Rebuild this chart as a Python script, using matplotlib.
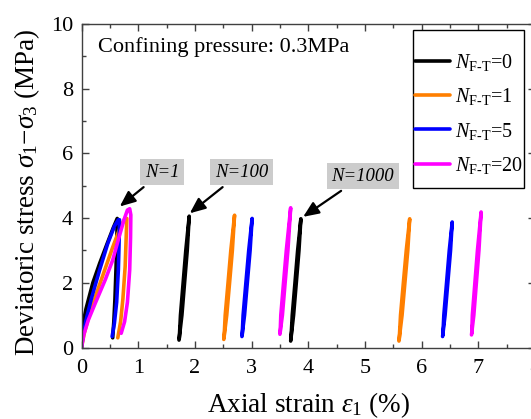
import matplotlib
matplotlib.use("Agg")
import matplotlib.pyplot as plt
from matplotlib.ticker import MultipleLocator
from matplotlib.patches import Rectangle

plt.rcParams['font.family'] = ['Liberation Serif', 'DejaVu Serif']
plt.rcParams['mathtext.fontset'] = 'custom'
plt.rcParams['mathtext.rm'] = 'Liberation Serif'
plt.rcParams['mathtext.it'] = 'Liberation Serif:italic'
plt.rcParams['mathtext.bf'] = 'Liberation Serif:bold'

# ---------------- data ----------------
series_labels = ['0', '1', '5', '20']
series_colors = ['#000000', '#ff7f00', '#0000ff', '#ff00ff']

# first loading/unloading cycle (N=1)
x_first_0 = [0.00, 0.02, 0.04, 0.08, 0.20, 0.32, 0.45, 0.56, 0.63, 0.625, 0.61, 0.59, 0.57, 0.55]
y_first_0 = [0.00, 0.50, 0.85, 1.20, 2.00, 2.60, 3.20, 3.70, 3.99, 3.50, 2.50, 1.50, 0.80, 0.30]
x_first_1 = [0.00, 0.05, 0.12, 0.25, 0.40, 0.55, 0.68, 0.76, 0.80, 0.79, 0.77, 0.73, 0.69, 0.64]
y_first_1 = [0.00, 0.45, 0.90, 1.60, 2.35, 3.10, 3.70, 3.97, 3.99, 3.50, 2.50, 1.50, 0.80, 0.30]
x_first_5 = [0.00, 0.03, 0.08, 0.18, 0.32, 0.46, 0.58, 0.65, 0.67, 0.665, 0.65, 0.62, 0.58, 0.54]
y_first_5 = [0.00, 0.40, 0.85, 1.55, 2.40, 3.20, 3.75, 3.95, 3.95, 3.40, 2.40, 1.40, 0.75, 0.34]
x_first_20 = [0.00, 0.04, 0.12, 0.25, 0.42, 0.55, 0.66, 0.75, 0.81, 0.85, 0.87, 0.865, 0.85, 0.81, 0.76, 0.70]
y_first_20 = [0.00, 0.40, 0.85, 1.40, 2.10, 2.70, 3.40, 3.95, 4.25, 4.29, 4.10, 3.40, 2.40, 1.40, 0.80, 0.44]

# N=100 hysteresis loops
x_n100_0 = [1.720, 1.771, 1.818, 1.865, 1.900, 1.840, 1.793, 1.746, 1.725]
y_n100_0 = [0.23, 1.00, 2.00, 3.00, 4.06, 3.00, 2.00, 1.00, 0.28]
x_n100_1 = [2.510, 2.562, 2.612, 2.661, 2.700, 2.634, 2.585, 2.535, 2.515]
y_n100_1 = [0.25, 1.00, 2.00, 3.00, 4.09, 3.00, 2.00, 1.00, 0.30]
x_n100_5 = [2.830, 2.876, 2.925, 2.974, 3.010, 2.950, 2.900, 2.851, 2.835]
y_n100_5 = [0.34, 1.00, 2.00, 3.00, 3.99, 3.00, 2.00, 1.00, 0.39]
x_n100_20 = [3.500, 3.544, 3.592, 3.641, 3.690, 3.613, 3.564, 3.516, 3.505]
y_n100_20 = [0.41, 1.00, 2.00, 3.00, 4.32, 3.00, 2.00, 1.00, 0.46]

# N=1000 hysteresis loops
x_n1000_0 = [3.690, 3.741, 3.789, 3.836, 3.870, 3.813, 3.766, 3.718, 3.695]
y_n1000_0 = [0.20, 1.00, 2.00, 3.00, 3.98, 3.00, 2.00, 1.00, 0.25]
x_n1000_1 = [5.600, 5.655, 5.705, 5.756, 5.790, 5.729, 5.678, 5.628, 5.605]
y_n1000_1 = [0.20, 1.00, 2.00, 3.00, 3.98, 3.00, 2.00, 1.00, 0.25]
x_n1000_5 = [6.370, 6.414, 6.462, 6.510, 6.540, 6.488, 6.440, 6.392, 6.375]
y_n1000_5 = [0.34, 1.00, 2.00, 3.00, 3.88, 3.00, 2.00, 1.00, 0.39]
x_n1000_20 = [6.880, 6.921, 6.966, 7.011, 7.050, 6.985, 6.940, 6.895, 6.885]
y_n1000_20 = [0.39, 1.00, 2.00, 3.00, 4.19, 3.00, 2.00, 1.00, 0.44]

first_x = [x_first_0, x_first_1, x_first_5, x_first_20]
first_y = [y_first_0, y_first_1, y_first_5, y_first_20]
n100_x = [x_n100_0, x_n100_1, x_n100_5, x_n100_20]
n100_y = [y_n100_0, y_n100_1, y_n100_5, y_n100_20]
n1000_x = [x_n1000_0, x_n1000_1, x_n1000_5, x_n1000_20]
n1000_y = [y_n1000_0, y_n1000_1, y_n1000_5, y_n1000_20]

annot_texts = ['N=1', 'N=100', 'N=1000']
annot_tips = [(0.675, 4.36), (1.91, 4.15), (3.91, 4.04)]
annot_text_pos = [(1.42, 5.42), (2.82, 5.42), (4.96, 5.30)]

# ---------------- figure ----------------
W, H = 531, 419
fig = plt.figure(figsize=(W / 100, H / 100), dpi=100)
ax = fig.add_axes([0.1535, 0.1706, 0.854, 0.772])

lw = 2.6
for i, lab in enumerate(series_labels):
    c = series_colors[i]
    ax.plot(first_x[i], first_y[i], color=c, lw=lw, solid_capstyle='round',
            solid_joinstyle='round',
            label=r'$N_{\mathrm{F}\text{-}\mathrm{T}}$=' + lab)
    ax.plot(n100_x[i], n100_y[i], color=c, lw=lw, solid_capstyle='round', solid_joinstyle='round')
    ax.plot(n1000_x[i], n1000_y[i], color=c, lw=lw, solid_capstyle='round', solid_joinstyle='round')

ax.set_xlim(0, 8)
ax.set_ylim(0, 10)
ax.xaxis.set_major_locator(MultipleLocator(1))
ax.xaxis.set_minor_locator(MultipleLocator(0.5))
ax.yaxis.set_major_locator(MultipleLocator(2))
ax.yaxis.set_minor_locator(MultipleLocator(1))
ax.tick_params(which='both', direction='in', top=True, right=True, color='#404040')
ax.tick_params(which='major', length=5, width=1, labelsize=16)
ax.tick_params(axis='x', which='major', pad=8)
ax.tick_params(axis='y', which='major', pad=6)
ax.tick_params(which='minor', length=3, width=1)
for s in ax.spines.values():
    s.set_color('#404040')
    s.set_linewidth(1.0)

ax.set_xlabel(r'Axial strain $\varepsilon_{\mathrm{1}}$ (%)', fontsize=19.5, labelpad=9)
ax.set_ylabel(r'Deviatoric stress $\sigma_{\mathrm{1}}$$-$$\sigma_{\mathrm{3}}$ (MPa)', fontsize=19.5)
ax.yaxis.set_label_coords(-0.088, 0.48)

ax.text(0.036, 0.96, 'Confining pressure: 0.3MPa', transform=ax.transAxes,
        fontsize=16, ha='left', va='top')

for t, tip, pos in zip(annot_texts, annot_tips, annot_text_pos):
    ax.annotate(t, xy=tip, xytext=pos, fontsize=13.5, style='italic',
                ha='center', va='center',
                bbox=dict(boxstyle='square,pad=0.25', fc='#cccccc', ec='none'),
                arrowprops=dict(arrowstyle='-|>,head_length=0.7,head_width=0.3',
                                color='black', lw=1.6, shrinkA=2, shrinkB=0))

# legend frame drawn separately (tall, narrow box as in the reference)
ax.add_patch(Rectangle((413 / W, 1 - 188 / H), (524 - 413) / W, (188 - 30) / H,
                       transform=fig.transFigure, fill=True, fc='white',
                       ec='black', lw=1.0, zorder=4, clip_on=False))
leg = ax.legend(loc='center', bbox_to_anchor=(469 / W, 1 - 114 / H),
                bbox_transform=fig.transFigure, fontsize=14.5, frameon=False,
                handlelength=1.7, handletextpad=0.25, labelspacing=0.65,
                borderpad=0.0, borderaxespad=0)
leg.set_zorder(6)

fig.savefig('out.png', dpi=100)
